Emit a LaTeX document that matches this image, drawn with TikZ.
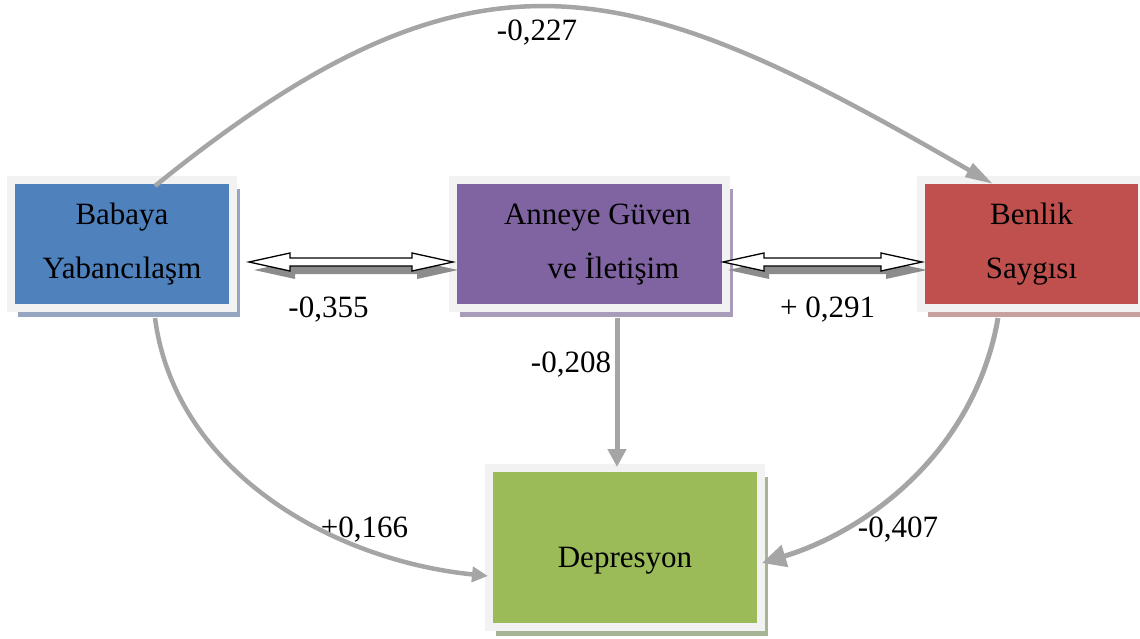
\documentclass[tikz,border=0pt]{standalone}
\usepackage{fontspec}
\setmainfont{Liberation Serif}
\usepackage{xcolor}
\usetikzlibrary{arrows.meta,calc,positioning,shadows}

\definecolor{boxblue}{RGB}{79,129,189}
\definecolor{boxpurple}{RGB}{128,100,162}
\definecolor{boxred}{RGB}{192,80,77}
\definecolor{boxgreen}{RGB}{155,187,89}
\definecolor{framegray}{RGB}{242,242,242}
\definecolor{linegray}{RGB}{165,165,165}
\definecolor{shblue}{RGB}{150,166,192}
\definecolor{shpurple}{RGB}{168,156,186}
\definecolor{shred}{RGB}{200,160,160}
\definecolor{shgreen}{RGB}{168,180,150}

\tikzset{
  box/.style={draw=framegray, line width=8pt, inner sep=0pt, outer sep=0pt,
    align=center, text height=75pt, text depth=7pt, font=\fontsize{31}{54}\selectfont},
  boxshadow/.style={drop shadow={shadow xshift=7pt, shadow yshift=-9pt, fill=#1, opacity=1}},
  link/.style={draw=linegray, line width=4.5pt},
  num/.style={font=\fontsize{31}{36}\selectfont, inner sep=0pt, anchor=base},
  hollow/.style={draw=black, line width=1.3pt, fill=white, line join=miter,
    drop shadow={shadow xshift=5pt, shadow yshift=-8pt, fill=gray!90, opacity=1}}
}

\begin{document}
\begin{tikzpicture}[x=1pt,y=-1pt]
        \useasboundingbox (0,0) rectangle (1140,639);

        % boxes
        \node[box, fill=boxblue, boxshadow=shblue, minimum width=222pt, minimum height=128pt] (BY) at (122,244) {Babaya\\Yabancılaşm};
        \node[box, fill=boxpurple, boxshadow=shpurple, minimum width=273pt, minimum height=128pt] (AG) at ($(BY)+(467.5,0)$) {\hspace*{16pt}Anneye Güven\\\hspace*{48pt}ve İletişim};
        \node[box, fill=boxred, boxshadow=shred, minimum width=221pt, minimum height=128pt] (BS) at ($(AG)+(442,0)$) {Benlik\\Saygısı};
        \node[box, fill=boxgreen, boxshadow=shgreen, minimum width=272pt, minimum height=159pt, text height=46pt, text depth=7pt] (DP) at ($(AG)+(35.5,303.5)$) {Depresyon};

        % values
        \node[num] (v1) at (537,41) {-0,227};
        \node[num] (v2) at (328.5,317) {-0,355};
        \node[num] (v3) at (827.5,317) {+ 0,291};
        \node[num] (v4) at (571,372) {-0,208};
        \node[num] (v5) at (364.5,537) {+0,166};
        \node[num] (v6) at (898,537) {-0,407};

        % paths
        \draw[link, -{Triangle[length=28pt,width=15pt]}] ($(BY.north)+(33,6)$) .. controls (479,-77) and (632,-25) .. ($(BS.north)+(-38.5,4)$);
        \draw[link, -{Triangle[length=16pt,width=15pt]}] ($(BY.south)+(33,10)$) .. controls (175,470) and (330,560) .. ($(DP.west)+(-1,28.5)$);
        \draw[link, line width=5pt, -{Triangle[length=24pt,width=22pt]}] ($(BS.south)+(-33.5,10)$) .. controls (975,450) and (870,530) .. ($(DP.east)+(1,15.5)$);
        \draw[link, line width=5pt, -{Triangle[length=18pt,width=18pt]}] ($(AG.south)+(27.5,10)$) -- ($(DP.north)+(-8,-1)$);

        % correlations
        \coordinate (L1) at ($(BY.east)+(16,18)$);
        \coordinate (R1) at ($(AG.west)+(0,18)$);
        \coordinate (L2) at ($(AG.east)+(-3,18)$);
        \coordinate (R2) at ($(BS.west)+(1,18)$);
        \foreach \a/\b in {L1/R1, L2/R2}
          \draw[hollow] (\a) -- ++(41,-9) -- ++(0,5) -- ($(\b)+(-41,-4)$) -- ++(0,-5) -- (\b)
            -- ++(-41,9) -- ++(0,-5) -- ($(\a)+(41,4)$) -- ++(0,5) -- cycle;
    \end{tikzpicture}
\end{document}
